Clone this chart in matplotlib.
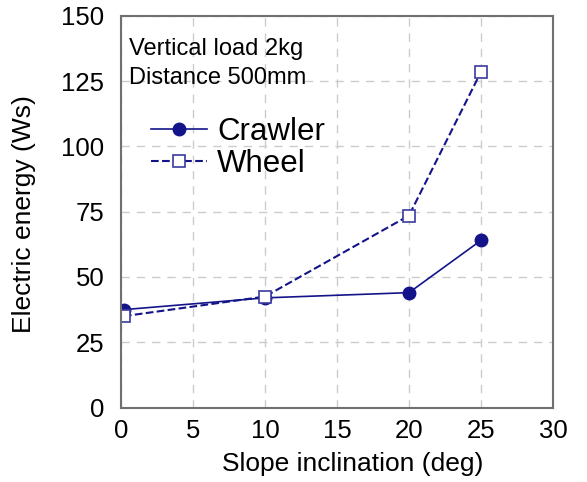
import matplotlib
matplotlib.use('Agg')
import matplotlib.pyplot as plt

plt.rcParams['font.family'] = ['Liberation Sans', 'DejaVu Sans']

slope = [0.2, 10, 20, 25]
crawler = [37.5, 42.0, 44.0, 64.0]
wheel = [35.0, 42.5, 73.5, 128.5]

fig = plt.figure(figsize=(5.87, 4.82), dpi=100)
ax = fig.add_axes([121/587, 1 - 407.6/482, (553-121)/587, (407.6-15.7)/482])

navy = '#14148a'
ax.plot(slope, crawler, '-o', color=navy, lw=1.2, ms=9, label='Crawler')
ax.plot(slope, wheel, '--s', color=navy, lw=1.5, ms=9, mfc='white',
        mec='#3a3aa0', mew=1.2, label='Wheel')

ax.set_xlim(0, 30)
ax.set_ylim(0, 150)
ax.set_xticks(range(0, 31, 5))
ax.set_yticks(range(0, 151, 25))
ax.grid(True, ls=(0, (6, 5)), color='#cccccc', lw=1)
ax.tick_params(labelsize=18.5, length=0)
ax.tick_params(axis='x', pad=8)
ax.tick_params(axis='y', pad=12)
for s in ax.spines.values():
    s.set_color('#707070')
    s.set_linewidth(1.5)

ax.set_xlabel('Slope inclination (deg)', fontsize=19)
ax.set_ylabel('Electric energy (Ws)', fontsize=19)
ax.xaxis.set_label_coords(0.537, -0.113)
ax.yaxis.set_label_coords(-0.197, 0.495)

ax.text(0.0185, 0.915, 'Vertical load 2kg', transform=ax.transAxes, fontsize=17, va='center')
ax.text(0.0185, 0.84, 'Distance 500mm', transform=ax.transAxes, fontsize=17, va='center')

ax.legend(loc='upper left', bbox_to_anchor=(0.069, 0.742), frameon=False, fontsize=22.5,
          handlelength=1.8, borderpad=0, borderaxespad=0, labelspacing=0.08,
          handletextpad=0.32)

fig.savefig('out.png', dpi=100)
